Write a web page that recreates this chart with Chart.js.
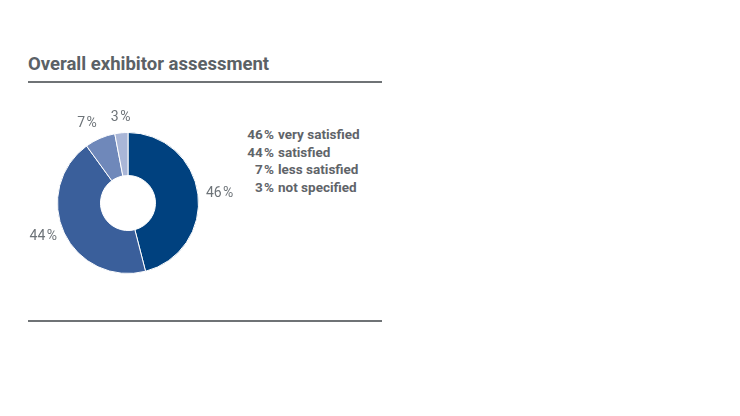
<!DOCTYPE html>
<html>
<head>
<meta charset="utf-8">
<script src="https://cdn.jsdelivr.net/npm/chart.js@4"></script>
<style>
  html, body { margin: 0; padding: 0; background: #fff; }
  #wrap { position: relative; width: 740px; height: 416px; overflow: hidden; font-family: Roboto, "Liberation Sans", sans-serif; }
  #title { position: absolute; left: 28px; top: 53px; font-size: 18.5px; font-weight: bold; color: #5b6166; margin: 0; }
  .rule { position: absolute; left: 28px; width: 354px; height: 2px; background: #6f7376; }
  #legend { position: absolute; left: 246px; top: 126px; font-size: 13.5px; font-weight: bold; color: #5f6469; line-height: 17.5px; }
  #legend .row { display: flex; }
  #legend .num { width: 28px; text-align: right; margin-right: 4px; white-space: nowrap; }
  canvas { position: absolute; left: 0; top: 0; }
</style>
</head>
<body>
<div id="wrap">
  <h2 id="title">Overall exhibitor assessment</h2>
  <div class="rule" style="top:81px"></div>
  <div class="rule" style="top:320px"></div>
  <div id="legend"></div>
  <canvas id="chart" width="740" height="416"></canvas>
</div>
<script>
// ChartSetup
const categories = ['very satisfied', 'satisfied', 'less satisfied', 'not specified'];
const shares = [46, 44, 7, 3];
const sliceColors = ['#00417f', '#3a5f9b', '#6f88ba', '#a9b6d7'];

const pct = (v) => v + '\u200A%';

// legend as text block to the right
const legendEl = document.getElementById('legend');
categories.forEach((name, i) => {
  const row = document.createElement('div');
  row.className = 'row';
  row.innerHTML = '<span class="num">' + pct(shares[i]) + '</span><span>' + name + '</span>';
  legendEl.appendChild(row);
});

// outside labels: anchored just past the rim, aligned away from the ring
const outsideLabels = {
  id: 'outsideLabels',
  afterDatasetsDraw(chart) {
    const { ctx } = chart;
    const meta = chart.getDatasetMeta(0);
    ctx.save();
    ctx.font = '14px Roboto, "Liberation Sans", sans-serif';
    ctx.fillStyle = '#6d7378';
    meta.data.forEach((arc, i) => {
      const mid = (arc.startAngle + arc.endAngle) / 2;
      const cos = Math.cos(mid);
      const sin = Math.sin(mid);
      const r = arc.outerRadius + 8;
      const x = arc.x + cos * r;
      const y = arc.y + sin * r;
      ctx.textAlign = cos > 0.3 ? 'left' : cos < -0.3 ? 'right' : 'center';
      ctx.textBaseline = sin < -0.5 ? 'bottom' : sin > 0.5 ? 'top' : 'middle';
      ctx.fillText(pct(shares[i]), x, y);
    });
    ctx.restore();
  },
};

new Chart(document.getElementById('chart'), {
  type: 'doughnut',
  data: {
    labels: categories,
    datasets: [
      {
        data: shares,
        backgroundColor: sliceColors,
        borderColor: '#ffffff',
        borderWidth: 1,
      },
    ],
  },
  options: {
    responsive: false,
    animation: false,
    cutout: '39%',
    layout: { padding: { left: 57, right: 541, top: 132, bottom: 142 } },
    plugins: {
      legend: { display: false },
      tooltip: { enabled: false },
    },
  },
  plugins: [outsideLabels],
});
</script>
</body>
</html>
